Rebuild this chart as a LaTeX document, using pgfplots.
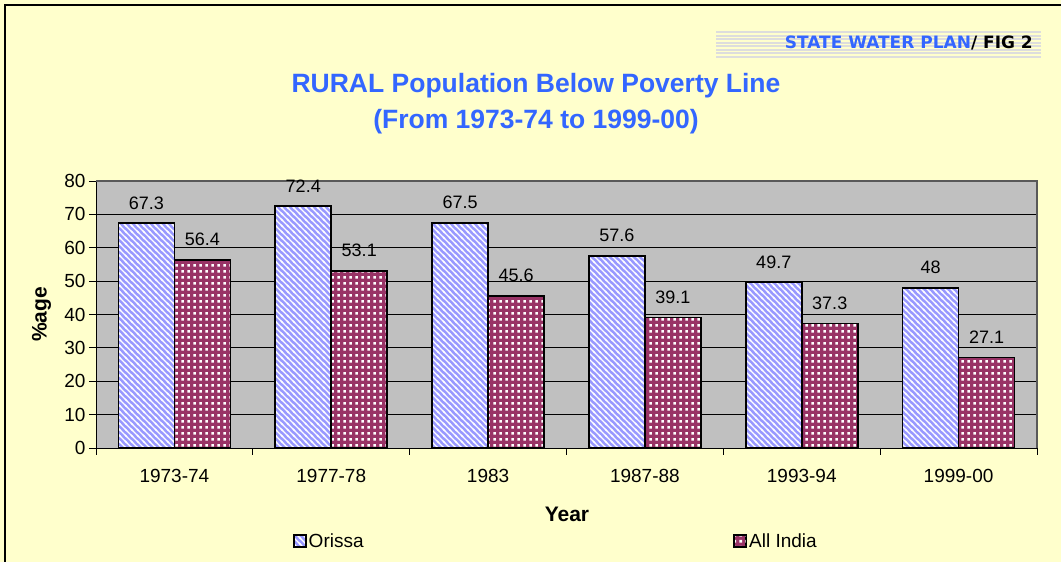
\documentclass[border=0pt]{standalone}
\usepackage{fontspec}
\setmainfont{Liberation Sans}
\newfontfamily\headerfont{DejaVu Sans}
\usepackage{pgfplots}
\pgfplotsset{compat=1.18}
\usetikzlibrary{patterns}
\definecolor{bgyellow}{HTML}{FFFFCC}
\definecolor{plotgray}{HTML}{C0C0C0}
\definecolor{titleblue}{HTML}{3366FF}
\definecolor{orissablue}{HTML}{9999FF}
\definecolor{indiared}{HTML}{993366}
\definecolor{stripegray}{HTML}{DDDDDD}

\pgfdeclarepatternformonly{stripesNW}{\pgfpoint{-1pt}{-1pt}}{\pgfpoint{7pt}{7pt}}{\pgfpoint{6pt}{6pt}}{
  \pgfsetlinewidth{1.2pt}
  \pgfpathmoveto{\pgfpoint{0pt}{6pt}}\pgfpathlineto{\pgfpoint{6pt}{0pt}}
  \pgfpathmoveto{\pgfpoint{-1pt}{1pt}}\pgfpathlineto{\pgfpoint{1pt}{-1pt}}
  \pgfpathmoveto{\pgfpoint{5pt}{7pt}}\pgfpathlineto{\pgfpoint{7pt}{5pt}}
  \pgfusepath{stroke}}
\pgfdeclarepatternformonly{whitedots}{\pgfpointorigin}{\pgfpoint{6pt}{6pt}}{\pgfpoint{6pt}{6pt}}{
  \pgfpathrectangle{\pgfpoint{1.5pt}{1.5pt}}{\pgfpoint{3pt}{3pt}}
  \pgfusepath{fill}}

\begin{document}
\begin{tikzpicture}
\useasboundingbox (0,0) rectangle (1061pt,562pt);
\fill[bgyellow] (0,0) rectangle (1061pt,562pt);
% header striped box
\foreach \i in {0,...,7}{
  \fill[stripegray] (716pt,{504pt+\i*3.5pt}) rectangle (1041pt,{506pt+\i*3.5pt});
}
\node[anchor=base east, inner sep=0pt] at (1033pt,513pt)
  {\headerfont\bfseries\fontsize{17}{20}\selectfont\textcolor{titleblue}{STATE WATER PLAN}/ FIG 2};
% title
\node[anchor=base, inner sep=0pt, text=titleblue] at (536pt,469pt)
  {\bfseries\fontsize{26.5}{30}\selectfont RURAL Population Below Poverty Line};
\node[anchor=base, inner sep=0pt, text=titleblue] at (536pt,433pt)
  {\bfseries\fontsize{26.5}{30}\selectfont (From 1973-74 to 1999-00)};

\begin{axis}[
  at={(96pt,114pt)}, anchor=south west,
  width=941pt, height=267pt, scale only axis,
  xmin=-0.5, xmax=5.5, ymin=0, ymax=80,
  axis x line*=bottom, axis y line*=left,
  ytick={0,10,...,80},
  xtick={-0.5,0.5,...,5.5},
  x tick label as interval,
  xticklabels={1973-74,1977-78,1983,1987-88,1993-94,1999-00},
  tick align=outside, major tick length=7pt,
  tick style={black, line width=0.8pt},
  ymajorgrids, grid style={black, line width=0.8pt},
  axis background/.style={fill=plotgray},
  axis line style={black, line width=0.8pt},
  /pgf/number format/assume math mode=true,
  ticklabel style={font=\fontsize{19}{22}\selectfont},
  xticklabel style={yshift=-11pt},
  xlabel={Year},
  xlabel style={at={(axis description cs:0.5005,-0.277)}, anchor=base, font=\bfseries\fontsize{21}{24}\selectfont},
  ylabel={\%age},
  ylabel style={at={(axis description cs:-0.058,0.5)}, anchor=center, font=\bfseries\fontsize{21}{24}\selectfont},
  clip=false,
  ybar,
  nodes near coords,
  every node near coord/.append style={font=\fontsize{18}{21}\selectfont, anchor=base, yshift=14pt},
  legend columns=2,
  legend style={at={(0.2062,-0.3483)}, anchor=west, draw=none, fill=none,
    font=\fontsize{19}{22}\selectfont,
    /tikz/every even column/.append style={column sep=368pt}},
  every axis plot post/.append style={
    legend image code/.code={\draw[##1, line width=1.5pt] (0pt,-6pt) rectangle (12pt,6pt);}},
]
\addplot[bar width=0.357, bar shift=-0.1785, draw=black, line width=1.8pt,
  preaction={fill=orissablue}, pattern=stripesNW, pattern color=white]
  coordinates {(0,67.3) (1,72.4) (2,67.5) (3,57.6) (4,49.7) (5,48)};
\addlegendentry{Orissa}
\addplot[bar width=0.357, bar shift=0.1785, draw=black, line width=1.8pt,
  preaction={fill=indiared}, pattern=whitedots, pattern color=white]
  coordinates {(0,56.4) (1,53.1) (2,45.6) (3,39.1) (4,37.3) (5,27.1)};
\addlegendentry{All India}
\draw[color=gray!70!black, line width=1.5pt] (rel axis cs:0,1) -- (rel axis cs:1,1) -- (rel axis cs:1,0);
\end{axis}
% outer frame
\draw[black, line width=2.5pt] (5pt,-10pt) -- (5pt,557pt) -- (1075pt,557pt);
\end{tikzpicture}
\end{document}
